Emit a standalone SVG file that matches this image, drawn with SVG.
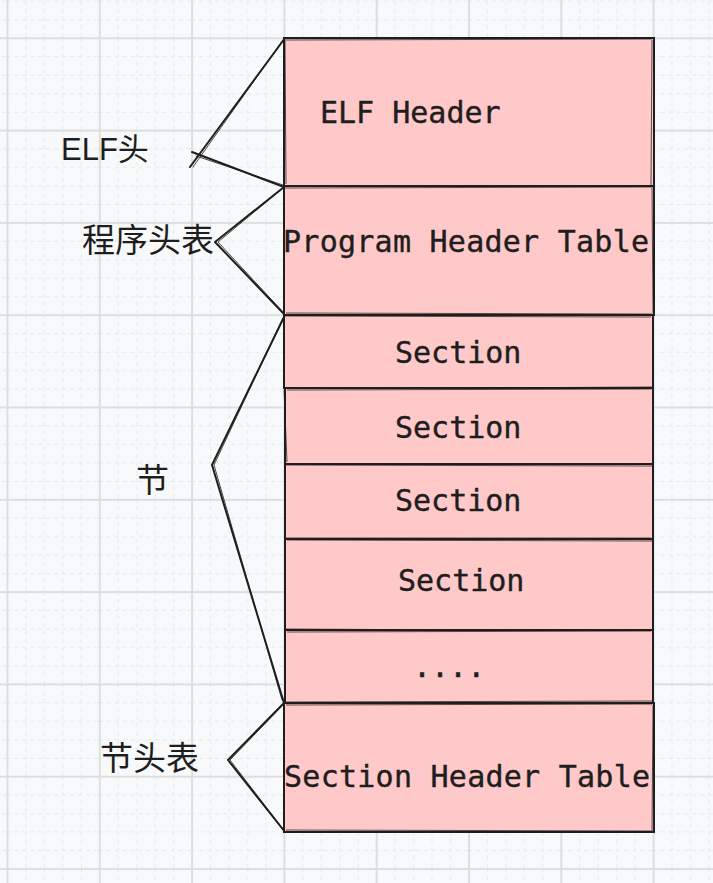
<svg xmlns="http://www.w3.org/2000/svg" width="713" height="883" viewBox="0 0 713 883">
  <defs>
    <pattern id="grid" x="6.5" y="37.3" width="92.3" height="92.3" patternUnits="userSpaceOnUse">
      <g stroke="#e6e7e8" stroke-width="1" stroke-dasharray="4 4" fill="none">
        <line x1="19.46" y1="0" x2="19.46" y2="92.3"/>
        <line x1="37.92" y1="0" x2="37.92" y2="92.3"/>
        <line x1="56.38" y1="0" x2="56.38" y2="92.3"/>
        <line x1="74.84" y1="0" x2="74.84" y2="92.3"/>
        <line x1="0" y1="19.46" x2="92.3" y2="19.46"/>
        <line x1="0" y1="37.92" x2="92.3" y2="37.92"/>
        <line x1="0" y1="56.38" x2="92.3" y2="56.38"/>
        <line x1="0" y1="74.84" x2="92.3" y2="74.84"/>
      </g>
      <rect x="0" y="0" width="2" height="92.3" fill="#dddedf"/>
      <rect x="0" y="0" width="92.3" height="2" fill="#dddedf"/>
    </pattern>
    <style>
      .box { fill: #ffc9c9; stroke: #1e1e1e; stroke-width: 2; }
      .sk { fill: none; stroke: #1e1e1e; stroke-width: 1; opacity: 0.75; }
      .lbl { font-family: "DejaVu Sans Mono", "Liberation Mono", monospace; font-size: 30px; fill: #1e1e1e; stroke: #1e1e1e; stroke-width: 0.4; }
      .cjk { font-family: "Liberation Sans", "Noto Sans CJK SC", sans-serif; font-size: 33px; fill: #1e1e1e; }
      .br { fill: none; stroke: #1e1e1e; stroke-width: 2; stroke-linecap: round; stroke-linejoin: round; }
      .br2 { fill: none; stroke: #1e1e1e; stroke-width: 1; stroke-linecap: round; opacity: 0.8; }
    </style>
  </defs>

  <rect x="0" y="0" width="713" height="883" fill="#f8f9fa"/>
  <rect x="0" y="0" width="713" height="883" fill="url(#grid)"/>

  <g id="node-elf-header">
    <rect class="box" x="284" y="38" width="370" height="148"/>
    <path class="sk" d="M286,40 L652,39 M652,40 L651,185 M285,39 L286,184"/>
    <text class="lbl" x="320" y="123">ELF Header</text>
  </g>

  <g id="node-program-header-table">
    <rect class="box" x="284" y="186" width="370" height="129"/>
    <path class="sk" d="M285,188 L653,187 M652,188 L653,313 M286,313 L652,314"/>
    <text class="lbl" x="283" y="252" textLength="366" lengthAdjust="spacing">Program Header Table</text>
  </g>

  <g id="node-section-1">
    <rect class="box" x="284" y="315" width="369" height="73"/>
    <path class="sk" d="M286,316 L651,317 M285,389 L652,387"/>
    <text class="lbl" x="395" y="363">Section</text>
  </g>

  <g id="node-section-2">
    <rect class="box" x="285" y="388" width="368" height="76"/>
    <path class="sk" d="M287,390 L651,389 M284,390 L287,462"/>
    <text class="lbl" x="395" y="438">Section</text>
  </g>

  <g id="node-section-3">
    <rect class="box" x="285" y="464" width="368" height="75"/>
    <path class="sk" d="M286,465 L652,466 M286,538 L651,538"/>
    <text class="lbl" x="395" y="511">Section</text>
  </g>

  <g id="node-section-4">
    <rect class="box" x="285" y="539" width="368" height="91"/>
    <path class="sk" d="M287,540 L652,541 M286,629 L651,631"/>
    <text class="lbl" x="398" y="591">Section</text>
  </g>

  <g id="node-more">
    <rect class="box" x="285" y="630" width="368" height="73"/>
    <path class="sk" d="M287,632 L651,631 M286,702 L652,701"/>
    <text class="lbl" x="413" y="677">....</text>
  </g>

  <g id="node-section-header-table">
    <rect class="box" x="284" y="703" width="370" height="129"/>
    <path class="sk" d="M286,705 L652,704 M653,705 L652,831 M286,830 L652,831"/>
    <text class="lbl" x="284" y="787" textLength="366" lengthAdjust="spacing">Section Header Table</text>
  </g>

  <g id="label-elf">
    <text class="cjk" x="61" y="160" style="font-size:31px">ELF头</text>
  </g>
  <g id="label-pht">
    <text class="cjk" x="82" y="252">程序头表</text>
  </g>
  <g id="label-section">
    <text class="cjk" x="136" y="492">节</text>
  </g>
  <g id="label-sht">
    <text class="cjk" x="100" y="770">节头表</text>
  </g>

  <g id="connectors">
    <path class="br" d="M285,38 L190,167"/>
    <path class="br2" d="M283,40 L193,167"/>
    <path class="br" d="M192,152 L284,187"/>
    <path class="br2" d="M196,156 L283,185"/>

    <path class="br" d="M284,187 L215,242 L284,314"/>
    <path class="br2" d="M282,189 L218,242 L283,312"/>

    <path class="br" d="M285,315 L212,465 L284,703"/>
    <path class="br2" d="M283,318 L214,465 L282,700"/>

    <path class="br" d="M284,703 L228,760 L285,832"/>
    <path class="br2" d="M282,706 L230,760 L283,829"/>
  </g>
</svg>
